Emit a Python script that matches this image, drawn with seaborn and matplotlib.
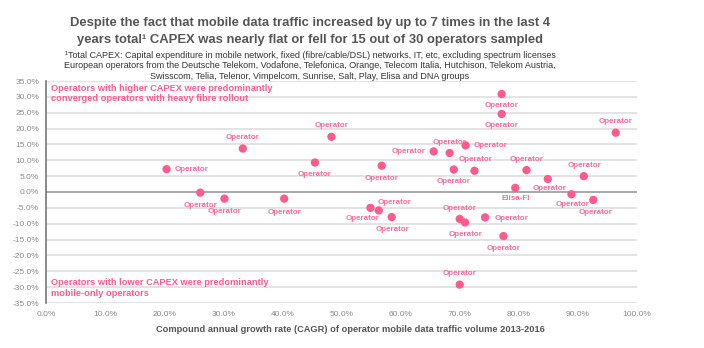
import matplotlib
matplotlib.use("Agg")
import matplotlib.pyplot as plt
import seaborn as sns
import pandas as pd
from matplotlib.ticker import FuncFormatter, MultipleLocator

# ---------------- data ----------------
cagr = [20.4, 26.1, 30.2, 33.3, 40.3, 45.5, 48.3,
        77.1, 77.1, 96.4, 65.6, 68.3, 71.0, 56.8, 69.0, 72.5, 81.3, 84.9, 91.0,
        79.4, 88.9, 92.6, 54.9, 56.3,
        58.5, 70.0, 70.9, 74.3, 77.4, 70.0]
capex = [7.2, -0.2, -2.1, 13.7, -2.1, 9.3, 17.4,
         30.9, 24.6, 18.7, 12.8, 12.3, 14.7, 8.3, 7.1, 6.7, 6.9, 4.1, 5.0,
         1.3, -0.7, -2.5, -5.0, -5.8,
         -7.9, -8.5, -9.6, -8.0, -13.9, -29.2]
names = ["Operator"] * 30
names[19] = "Elisa-FI"

title = ("Despite the fact that mobile data traffic increased by up to 7 times in the last 4\n"
         "years total\u00b9 CAPEX was nearly flat or fell for 15 out of 30 operators sampled")
subtitle = ("\u00b9Total CAPEX: Capital expenditure in mobile network, fixed (fibre/cable/DSL) networks, IT, etc, excluding spectrum licenses\n"
            "European operators from the Deutsche Telekom, Vodafone, Telefonica, Orange, Telecom Italia, Hutchison, Telekom Austria,\n"
            "Swisscom, Telia, Telenor, Vimpelcom, Sunrise, Salt, Play, Elisa and DNA groups")
xlabel = "Compound annual growth rate (CAGR) of operator mobile data traffic volume 2013-2016"
note_top = "Operators with higher CAPEX were predominantly\nconverged operators with heavy fibre rollout"
note_bottom = "Operators with lower CAPEX were predominantly\nmobile-only operators"

# label offsets in pixels (dx, dy with +dy downward) and alignment (style)
label_style = [
    (8, 0, "left"), (0, 12.7, "center"), (0, 12.4, "center"), (0, -11, "center"),
    (0, 13.4, "center"), (0, 12.4, "center"), (0, -11, "center"),
    (0, 11.6, "center"), (0, 12, "center"), (0, -10.7, "center"), (-8, 0, "right"),
    (0, -10.4, "center"), (8.5, 0.3, "left"), (0, 12.4, "center"), (0, 12, "center"),
    (0.7, -11, "center"), (0, -11, "center"), (2, 9.3, "center"), (0.3, -10.7, "center"),
    (0, 10.3, "center"), (1.4, 10.3, "center"), (2.6, 12.6, "center"),
    (-8, 10.5, "center"), (15.7, -7.7, "center"),
    (0.7, 12.6, "center"), (0, -10.4, "center"), (0.4, 12.3, "center"), (9.3, 1.3, "left"),
    (0.3, 12.6, "center"), (0, -11, "center"),
]

df = pd.DataFrame({"cagr": cagr, "capex": capex, "name": names})

# ---------------- style ----------------
sns.set_theme(style="white")
plt.rcParams["font.family"] = ["Liberation Sans", "DejaVu Sans"]
NARROW = ["Liberation Sans Narrow", "Liberation Sans", "DejaVu Sans"]

PINK = "#FF5C8E"
PINK_TXT = "#FF6A9C"
DARK = "#555555"
GRAY = "#8A8A8A"

fig = plt.figure(figsize=(7.04, 3.48), dpi=100)
ax = fig.add_axes([46 / 704, 1 - 303 / 348, (637 - 46) / 704, (303 - 81) / 348])

ax.set_xlim(0, 100)
ax.set_ylim(-35, 35)

# horizontal grid
for yv in range(-35, 36, 5):
    if yv == 0:
        continue
    ax.axhline(yv, color="#E3E3E3", lw=1.4, zorder=0)
ax.axhline(0, color="#9A9A9A", lw=1.2, zorder=1)

sns.scatterplot(data=df, x="cagr", y="capex", ax=ax, color=PINK, s=36,
                edgecolor="none", zorder=3, legend=False)

px2pt = 72 / 100
for xv, yv, nm, (dx, dy, ha) in zip(cagr, capex, names, label_style):
    ax.annotate(nm, (xv, yv), xytext=(dx * px2pt, -dy * px2pt),
                textcoords="offset points", ha=ha, va="center",
                fontsize=5.8, color=PINK_TXT, fontweight="bold", zorder=4)

ax.text(0.008, 0.988, note_top, transform=ax.transAxes, ha="left", va="top",
        fontsize=6.7, color=PINK, fontweight="bold", linespacing=1.25)
ax.text(0.008, 0.022, note_bottom, transform=ax.transAxes, ha="left", va="bottom",
        fontsize=6.7, color=PINK, fontweight="bold", linespacing=1.25)

ax.xaxis.set_major_locator(MultipleLocator(10))
ax.yaxis.set_major_locator(MultipleLocator(5))
ax.xaxis.set_major_formatter(FuncFormatter(lambda v, p: f"{v:.1f}%"))
ax.yaxis.set_major_formatter(FuncFormatter(lambda v, p: f"{v:.1f}%"))
ax.tick_params(axis="both", labelsize=6, colors=GRAY, length=0)
ax.tick_params(axis="y", pad=5)
ax.tick_params(axis="x", pad=6)

for side in ["top", "right", "bottom"]:
    ax.spines[side].set_visible(False)
ax.spines["left"].set_color("#777777")
ax.spines["left"].set_linewidth(1.2)

ax.set_xlabel("")
ax.set_ylabel("")
fig.text(350 / 704, 1 - 330 / 348, xlabel, ha="center", va="center",
         fontsize=6.65, fontweight="bold", color=DARK)

fig.text(310 / 704, 1 - 31.5 / 348, title, ha="center", va="center",
         fontsize=9.35, fontweight="bold", color=DARK, family=NARROW,
         linespacing=1.5)
fig.text(310 / 704, 1 - 66 / 348, subtitle, ha="center", va="center",
         fontsize=6.45, color="#333333", family=NARROW, linespacing=1.24)

fig.savefig("out.png", dpi=100)
